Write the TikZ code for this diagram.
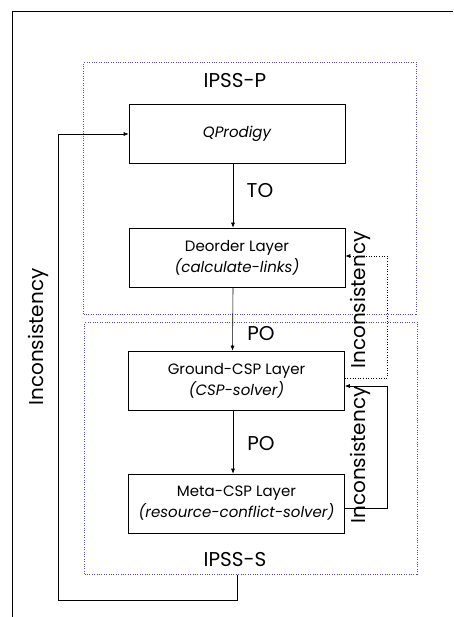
\documentclass[tikz,border=0pt]{standalone}
\usepackage{fontspec}
\setmainfont{Poppins}
\usetikzlibrary{arrows.meta}
\definecolor{groupblue}{RGB}{80,80,170}
\begin{document}
\begin{tikzpicture}[x=1pt,y=-1pt,
  layer/.style={draw,semithick,minimum width=216pt,minimum height=59pt,align=center,
    font=\fontsize{15}{21}\selectfont},
  group/.style={draw=groupblue,dotted,minimum width=333pt,minimum height=252pt},
  big/.style={font=\fontsize{20}{24}\selectfont},
  flow/.style={semithick,-{Latex[length=5pt,width=4pt]}}]
\useasboundingbox (0,0) rectangle (453,617);
\draw[semithick] (12,617) -- (12,11) -- (453,11);

\node[group] (ipssp) at (250,188.5) {};
\node[group] (ipsss) at (251,448.5) {};
\node[big] (ipssplabel) at (235,81) {IPSS-P};
\node[big] (ipssslabel) at (235,560) {IPSS-S};

\node[layer] (qprod) at (237,134) {\itshape QProdigy};
\node[layer] (deorder) at (237,257.5) {Deorder Layer\\\itshape (calculate-links)};
\node[layer] (ground) at (236.5,380.5) {Ground-CSP Layer\\\itshape (CSP-solver)};
\node[layer] (meta) at (236.5,503.5) {Meta-CSP Layer\\\itshape (resource-conflict-solver)};

\draw[flow] ([xshift=-4pt]qprod.south) -- ([xshift=-4pt]deorder.north);
\draw[flow] ([xshift=-4pt]deorder.south) -- ([xshift=-4pt]ground.north);
\draw[flow] ([xshift=-3.5pt]ground.south) -- ([xshift=-3.5pt]meta.north);
\node[big] (to) at (260,191) {TO};
\node[big] (po1) at (261,334) {PO};
\node[big] (po2) at (261,444) {PO};

\draw[flow,dotted] ([yshift=2.5pt]ground.east) -| (387,256) -- ([yshift=1.5pt]deorder.east);
\draw[flow] ([yshift=-4.5pt]meta.east) -| (387,386) -- ([yshift=-5.5pt]ground.east);
\node[big,rotate=90] (inc1) at (360,300) {Inconsistency};
\node[big,rotate=90] (inc2) at (360,455) {Inconsistency};

\draw[flow] ([xshift=-14pt]ipsss.south) |- (58,600) |- (qprod.west);
\node[big,rotate=90] (inc3) at (38,337) {Inconsistency};
\end{tikzpicture}
\end{document}
